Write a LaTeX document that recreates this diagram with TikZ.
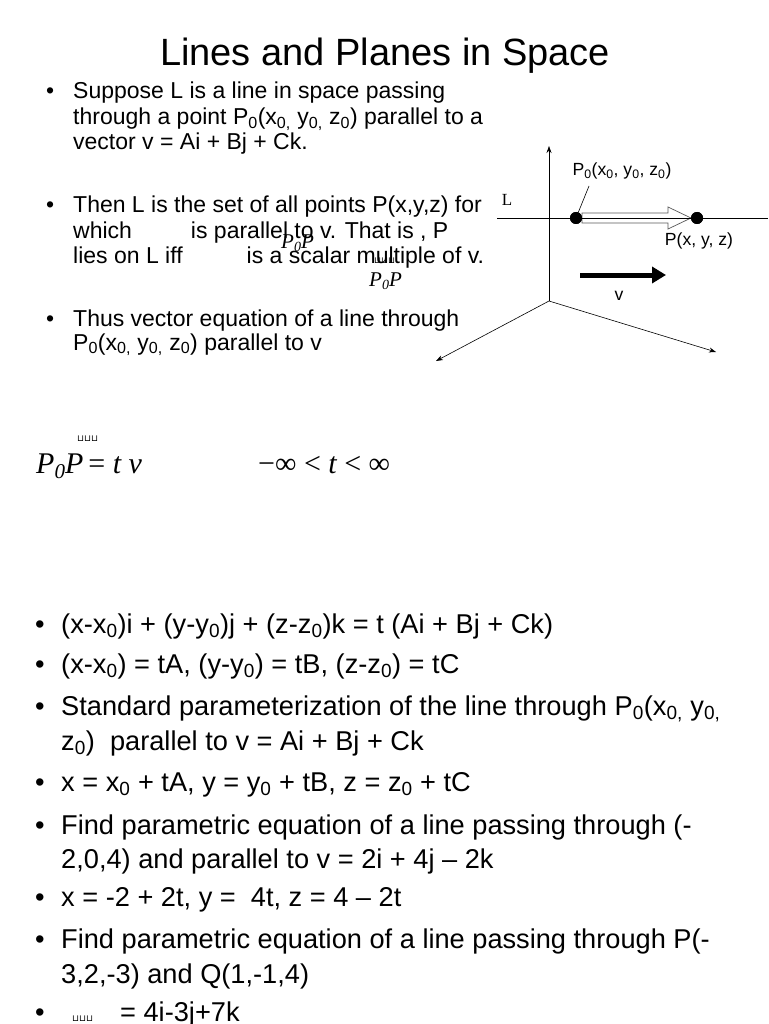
\documentclass[tikz,border=0pt]{standalone}
\usepackage{fontspec}
\setmainfont{Liberation Sans}
\newfontfamily\tms{Liberation Serif}
\newfontfamily\dvs{DejaVu Sans}
\usetikzlibrary{arrows.meta}
\newcommand{\sbs}[1]{\textsubscript{#1}}
\newcommand{\cups}{{\dvs\fontsize{9}{9}\selectfont ⊔⊔⊔}}
\begin{document}
\begin{tikzpicture}[x=1pt,y=-1pt,
  up/.style={anchor=base west,inner sep=0pt,font=\fontsize{23}{27}\selectfont},
  lo/.style={anchor=base west,inner sep=0pt,font=\fontsize{27.2}{32}\selectfont},
  dg/.style={inner sep=0pt,font=\fontsize{17.6}{20}\selectfont},
  ax/.style={line width=0.6pt,-{Stealth[length=7pt,width=5pt]}},
  dot/.style={circle,fill=black,minimum size=12pt,inner sep=0pt}]
\useasboundingbox (0,0) rectangle (768,1024);
\node[anchor=base,inner sep=0pt,font=\fontsize{38}{42}\selectfont] (title) at (385,66) {Lines and Planes in Space};
% upper bullets
\foreach \y/\n in {99/b1,213/b2,326/b3}{\node[up] (\n) at (46,\y) {•};}
\node[up] (u1) at (73,99) {Suppose L is a line in space passing};
\node[up] (u2) at (73,125) {through a point P\sbs{0}(x\sbs{0,} y\sbs{0,} z\sbs{0}) parallel to a};
\node[up] (u3) at (73,150) {vector v = Ai + Bj + Ck.};
\node[up] (u4) at (73,213) {Then L is the set of all points P(x,y,z) for};
\node[up] (u5) at (73,238) {which\hspace{59pt}is parallel to v. That is , P};
\node[up] (u6) at (73,263) {lies on L iff\hspace{64pt}is a scalar multiple of v.};
\node[up] (u7) at (73,326) {Thus vector equation of a line through};
\node[up] (u8) at (73,350) {P\sbs{0}(x\sbs{0,} y\sbs{0,} z\sbs{0}) parallel to v};
\node[anchor=base west,inner sep=0pt,font=\tms\itshape\fontsize{21}{21}\selectfont] (o1) at (281,248) {P\raisebox{-3pt}{\fontsize{14}{14}\selectfont 0}P};
\node[anchor=base west,inner sep=0pt] (c1) at (374,263) {\cups};
\node[anchor=base west,inner sep=0pt,font=\tms\itshape\fontsize{21}{21}\selectfont] (o2) at (369,286) {P\raisebox{-3pt}{\fontsize{14}{14}\selectfont 0}P};
% equation
\node[anchor=base west,inner sep=0pt] (c2) at (77,441) {\cups};
\node[anchor=base west,inner sep=0pt,font=\tms\itshape\fontsize{30}{30}\selectfont] (eq1) at (36,473) {P\raisebox{-5pt}{\fontsize{21}{21}\selectfont 0}P\,\upshape= \itshape t v};
\node[anchor=base west,inner sep=0pt,font=\tms\fontsize{30}{30}\selectfont] (eq2) at (258,473) {−∞ < \itshape t\upshape\ < ∞};
% lower bullets
\foreach \y/\n in {633/l1,673/l2,715/l3,791/l4,834/l5,906/l6,948/l7,1021/l8}{\node[lo] (\n) at (35,\y) {•};}
\node[lo] (t1) at (61,633) {(x-x\sbs{0})i + (y-y\sbs{0})j + (z-z\sbs{0})k = t (Ai + Bj + Ck)};
\node[lo] (t2) at (61,673) {(x-x\sbs{0}) = tA, (y-y\sbs{0}) = tB, (z-z\sbs{0}) = tC};
\node[lo] (t3) at (61,715) {Standard parameterization of the line through P\sbs{0}(x\sbs{0,} y\sbs{0,}};
\node[lo] (t3b) at (61,750) {z\sbs{0})\ \ parallel to v = Ai + Bj + Ck};
\node[lo] (t4) at (61,791) {x = x\sbs{0} + tA, y = y\sbs{0} + tB, z = z\sbs{0} + tC};
\node[lo] (t5) at (61,834) {Find parametric equation of a line passing through (-};
\node[lo] (t5b) at (61,868) {2,0,4) and parallel to v = 2i + 4j – 2k};
\node[lo] (t6) at (61,906) {x = -2 + 2t, y =\ \ 4t, z = 4 – 2t};
\node[lo] (t7) at (61,948) {Find parametric equation of a line passing through P(-};
\node[lo] (t7b) at (61,983) {3,2,-3) and Q(1,-1,4)};
\node[anchor=base west,inner sep=0pt] (c3) at (72,1021) {\cups};
\node[lo] (t8) at (120,1021) {= 4i-3j+7k};
% diagram
\coordinate (O) at (549,301);
\coordinate (Zt) at (549,146);
\coordinate (Xl) at (436,361);
\coordinate (Yr) at (716,352);
\coordinate (Ll) at (497,218);
\coordinate (Lr) at (768,218);
\draw[ax] (O) -- (Zt);
\draw[ax] (O) -- (Xl);
\draw[ax] (O) -- (Yr);
\draw[line width=0.6pt] (Ll) -- (Lr);
\node[dot] (P0) at (576,218) {};
\node[dot] (P) at (697,218) {};
\draw[gray!70!black,line width=0.7pt,fill=white] (582,213) -- (668,213) -- (668,207) -- (691,218) -- (668,229) -- (668,223) -- (582,223) -- cycle;
\draw[line width=0.6pt] (582,218) -- (P);
\node[dot] at (P0) {};
\node[dot] at (P) {};
\coordinate (va) at (580,275);
\coordinate (vb) at (666,275);
\draw[line width=5pt,-{Triangle[length=14pt,width=16pt]}] (va) -- (vb);
\node[dg] (vl) at (619,296) {v};
\node[inner sep=0pt,font=\tms\fontsize{17}{17}\selectfont] (Ltx) at (507,200) {L};
\node[dg] (P0l) at (622,171) {P\sbs{0}(x\sbs{0}, y\sbs{0}, z\sbs{0})};
\draw[line width=0.6pt] (589,186) -- (P0);
\node[dg] (Pl) at (699,241) {P(x, y, z)};
\end{tikzpicture}
\end{document}
